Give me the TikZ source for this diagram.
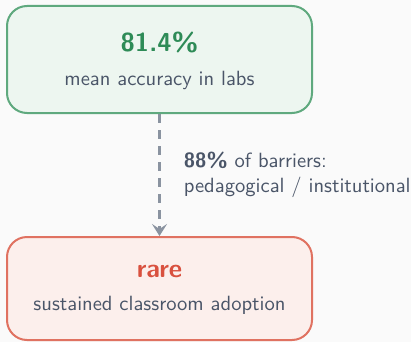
\documentclass[tikz,border=0pt]{standalone}
\usetikzlibrary{arrows.meta}

\definecolor{paper}{HTML}{FAFAFA}
\definecolor{slate}{HTML}{4A5568}
\definecolor{linkgray}{HTML}{8A93A0}
\definecolor{labline}{HTML}{5FA97E}
\definecolor{labfill}{HTML}{EDF6F0}
\definecolor{labtext}{HTML}{2E8B57}
\definecolor{classline}{HTML}{E07261}
\definecolor{classfill}{HTML}{FCEFEC}
\definecolor{classtext}{HTML}{D9513F}

\tikzset{
  box/.style={rectangle,rounded corners=10pt,line width=1pt,inner sep=0pt,
    minimum width=152.5pt},
  headline/.style={font=\sffamily\bfseries\fontsize{13}{15}\selectfont,anchor=base},
  subline/.style={font=\sffamily\fontsize{10.3}{12}\selectfont,anchor=base}
}

\begin{document}
\begin{tikzpicture}
  [x=0.5pt,y=-0.5pt,every node/.style={text=slate}]
  \fill[paper] (0,0) rectangle (411,342);

  % lab result on top, classroom outcome below
  \node[box,draw=labline,fill=labfill,minimum height=53.5pt] (lab) at (159.5,59.5) {};
  \node[headline,text=labtext] (labval) at (159.5,52) {81.4\%};
  \node[subline] (labtxt) at (159.5,85) {mean accuracy in labs};

  \node[box,draw=classline,fill=classfill,minimum height=51.5pt] (class) at (159.5,288.5) {};
  \node[headline,text=classtext] (classval) at (159.5,277) {rare};
  \node[subline] (classtxt) at (159.5,310) {sustained classroom adoption};

  \path[draw,linkgray,line width=1.35pt,dash pattern=on 4.5pt off 3.5pt,
        -{Stealth[length=6pt,width=7.5pt,inset=2.5pt]}]
     (lab) edge node[anchor=west,xshift=11.5pt,inner sep=0pt,align=left,
                     font=\sffamily\fontsize{10.3}{12.5}\selectfont]
       {\textbf{88\%} of barriers:\\pedagogical / institutional} (class);
\end{tikzpicture}
\end{document}
